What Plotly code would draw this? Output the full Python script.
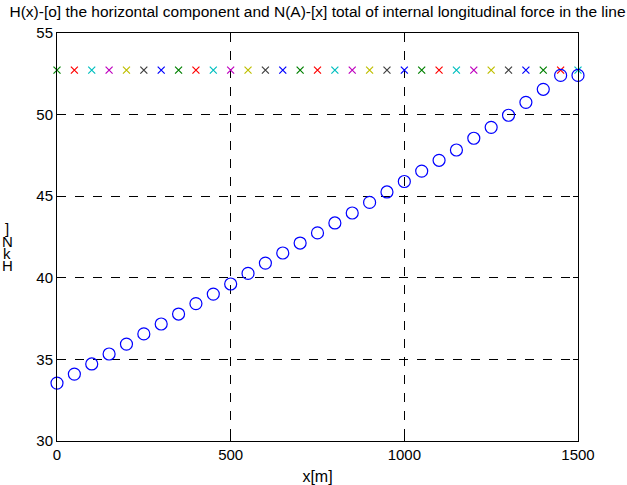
import plotly.graph_objects as go

x_m = [0, 50, 100, 150, 200, 250, 300, 350, 400, 450, 500, 550, 600, 650, 700, 750,
       800, 850, 900, 950, 1000, 1050, 1100, 1150, 1200, 1250, 1300, 1350, 1400, 1450, 1500]
H_kN = [33.55, 34.1, 34.72, 35.33, 35.94, 36.56, 37.17, 37.78, 38.42, 39.0, 39.62,
        40.27, 40.9, 41.52, 42.13, 42.75, 43.36, 43.97, 44.62, 45.26, 45.9,
        46.54, 47.2, 47.83, 48.55, 49.22, 49.96, 50.75, 51.55, 52.4, 52.4]
N_kN = [52.73] * 31
x_colors = ["#008000", "#ff0000", "#00bfbf", "#bf00bf", "#bfbf00", "#404040", "#0000ff"]
x_ticks = [0, 500, 1000, 1500]
y_ticks = [30, 35, 40, 45, 50, 55]
title = "H(x)-[o] the horizontal component and N(A)-[x] total of internal longitudinal force in the line"

fig = go.Figure()
for i, (xv, nv) in enumerate(zip(x_m, N_kN)):
    c = x_colors[i % len(x_colors)]
    fig.add_trace(go.Scatter(
        x=[xv], y=[nv], mode="markers",
        marker=dict(symbol="x-thin-open", size=7, color=c, line=dict(color=c, width=1.2)),
        showlegend=False, cliponaxis=False, hoverinfo="skip"))
fig.add_trace(go.Scatter(
    x=x_m, y=H_kN, mode="markers",
    marker=dict(symbol="circle-open", size=12, color="#0000ff", line=dict(width=1.2)),
    showlegend=False, cliponaxis=False, hoverinfo="skip"))

font = dict(family="Liberation Sans, Arial, sans-serif", size=15, color="black")
fig.update_layout(
    width=627, height=485,
    margin=dict(l=57, r=49, t=33, b=44),
    paper_bgcolor="white", plot_bgcolor="white",
    font=font,
    title=dict(text=title, x=0.5, xref="paper", xanchor="center",
               y=1 - 12 / 485, yanchor="middle", font=dict(size=15.5)),
    xaxis=dict(range=[0, 1500], tickvals=x_ticks, showgrid=True, gridcolor="black",
               griddash="dash", gridwidth=1, zeroline=False, showline=True, linecolor="black",
               linewidth=1, mirror="ticks", ticks="inside", ticklen=5, tickcolor="black",
               tickfont=dict(size=15), automargin=False,
               title=dict(text="x[m]", standoff=9, font=dict(size=16))),
    yaxis=dict(range=[30, 55], tickvals=y_ticks, showgrid=True, gridcolor="black",
               griddash="dash", gridwidth=1, zeroline=False, showline=True, linecolor="black",
               linewidth=1, mirror="ticks", ticks="inside", ticklen=5, tickcolor="black",
               tickfont=dict(size=15), automargin=False),
)

# stacked y-axis label "H[kN]" as in the reference rendering
for ch, py in [("]", 229), ("N", 242), ("k", 253), ("H", 265)]:
    fig.add_annotation(text=ch, xref="paper", yref="paper",
                       x=(7 - 57) / 521, y=(441 - py) / 408,
                       showarrow=False, xanchor="center", yanchor="middle",
                       font=dict(size=15))

fig.write_html("out.html", config={"displayModeBar": False},
               post_script="document.body.style.margin='0';document.body.style.padding='0';")
